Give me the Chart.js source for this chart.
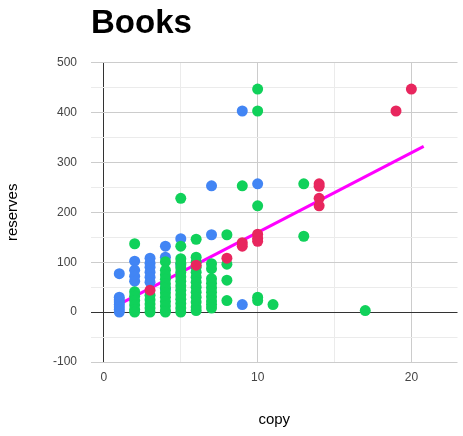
<!DOCTYPE html>
<html><head><meta charset="utf-8">
<script src="https://cdn.jsdelivr.net/npm/chart.js@4/dist/chart.umd.min.js"></script>
<style>html,body{margin:0;padding:0;background:#fff;}</style>
</head><body>
<canvas id="c" width="463" height="436"></canvas>
<script>
// ---- data ----
const blueX = [1,1,1,1,1,1,1,1, 2,2,2,2, 3,3,3,3,3,3, 4,4,4, 5,5, 7,7, 9,9, 10];
const blueY = [77,30,25,20,15,10,5,0, 102,84,72,62, 108,98,90,80,70,60, 132,110,47, 147,95, 155,253, 403,15, 257];

const greenX = [2,2,2,2,2,2,2,
  3,3,3,3,3,
  4,4,4,4,4,4,4,4,4,4,4,4,
  5,5,5,5,5,5,5,5,5,5,5,5,5,5,5,
  6,6,6,6,6,6,6,6,6,6,6,6,6,
  7,7,7,7,7,7,7,7,7,7,
  8,8,8,8, 9, 10,10,10,10,10, 11, 13,13, 17];
const greenY = [137,41,32,23,14,5,0,
  34,25,16,8,0,
  101,84,75,66,57,48,39,30,21,12,3,0,
  228,132,107,98,89,80,71,62,53,44,35,26,17,8,0,
  146,110,100,90,80,70,60,50,40,30,20,10,3,
  97,87,67,58,49,40,31,22,15,8,
  155,96,64,23, 253, 447,403,213,30,23, 15, 257,152, 3];

const redX = [3,6,8,9,9,10,10,10,14,14,14,14,19,20];
const redY = [44,94,108,139,132,156,148,142,257,252,228,213,403,447];

const trendX = [0.7, 20.8];
const trendY = [11, 332];

const yTicks = [-100, 0, 100, 200, 300, 400, 500];
const xTicks = [0, 10, 20];

const pts = (xs, ys) => xs.map((x, i) => ({x: x, y: ys[i]}));
const FONT = 'Liberation Sans, Arial, sans-serif';

new Chart(document.getElementById('c'), {
  type: 'scatter',
  data: {
    datasets: [
      {label: 'trend', type: 'line', data: pts(trendX, trendY), borderColor: '#ff00ff', borderWidth: 3,
       pointRadius: 0, fill: false, order: 4},
      {label: 'blue', data: pts(blueX, blueY), backgroundColor: '#4285f4', pointRadius: 5.5, borderWidth: 0, order: 3},
      {label: 'green', data: pts(greenX, greenY), backgroundColor: '#10d15a', pointRadius: 5.5, borderWidth: 0, order: 2},
      {label: 'red', data: pts(redX, redY), backgroundColor: '#e8265e', pointRadius: 5.5, borderWidth: 0, order: 1}
    ]
  },
  options: {
    responsive: false,
    animation: false,
    events: [],
    layout: {padding: {top: 0, right: 3, bottom: 0, left: 0}},
    plugins: {
      legend: {display: false},
      tooltip: {enabled: false},
      title: {display: true, text: 'Books', align: 'start', fullSize: false, color: '#000',
        font: {family: FONT, size: 33, weight: 'bold'}, padding: {top: 4, bottom: 19}}
    },
    scales: {
      x: {
        type: 'linear', min: -0.84, max: 23,
        border: {display: false},
        grid: {drawTicks: false,
          color: c => c.tick.value === 0 ? '#333' : (c.tick.value % 10 === 0 ? '#cccccc' : '#ebebeb'),
          lineWidth: 1},
        ticks: {stepSize: 5, includeBounds: false, padding: 8, color: '#444',
          font: {family: FONT, size: 12},
          callback: v => xTicks.includes(v) ? String(v) : ''},
        title: {display: true, text: 'copy', color: '#000', font: {family: FONT, size: 15}, padding: {top: 0, bottom: 7}},
        afterFit: s => { s.height = 74; }
      },
      y: {
        type: 'linear', min: -100, max: 500,
        border: {display: false},
        grid: {drawTicks: false,
          color: c => c.tick.value === 0 ? '#333' : (c.tick.value % 100 === 0 ? '#cccccc' : '#ebebeb'),
          lineWidth: 1},
        ticks: {stepSize: 50, padding: 14, color: '#444',
          font: {family: FONT, size: 12},
          callback: v => yTicks.includes(v) ? String(v) : ''},
        title: {display: true, text: 'reserves', color: '#000', font: {family: FONT, size: 15}, padding: {top: 4, bottom: 0}},
        afterFit: s => { s.width = 91; }
      }
    }
  }
});
</script>
</body></html>
